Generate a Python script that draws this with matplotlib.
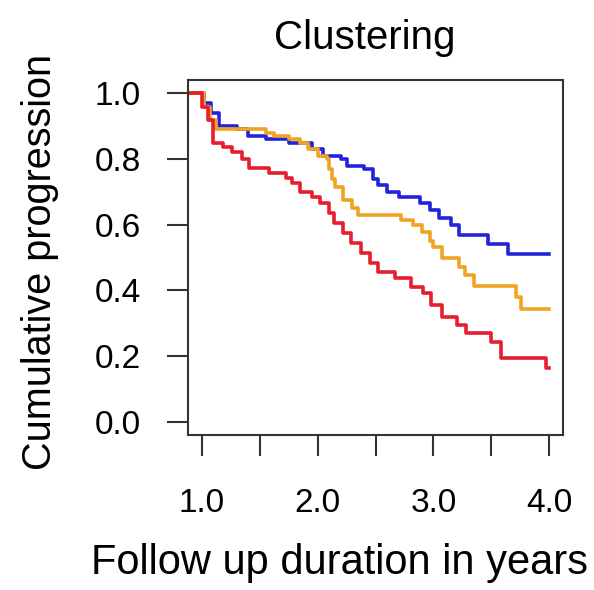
import matplotlib
matplotlib.use("Agg")
import matplotlib.pyplot as plt

plt.rcParams['font.family'] = ['Liberation Sans', 'DejaVu Sans']

# step curves: time of each drop and the level after it
blue_t = [0.90, 1.02, 1.08, 1.15, 1.30, 1.40, 1.55, 1.75, 1.95, 2.05, 2.20, 2.25,
          2.40, 2.48, 2.52, 2.60, 2.70, 2.88, 2.97, 3.05, 3.15, 3.22, 3.47, 3.64, 4.00]
blue_v = [1.00, 0.97, 0.94, 0.90, 0.89, 0.87, 0.86, 0.85, 0.83, 0.81, 0.80, 0.78,
          0.77, 0.74, 0.72, 0.70, 0.685, 0.665, 0.645, 0.62, 0.60, 0.57, 0.54, 0.51, 0.51]

orange_t = [0.90, 1.02, 1.07, 1.12, 1.55, 1.62, 1.75, 1.85, 1.92, 2.00, 2.08, 2.10,
            2.12, 2.15, 2.22, 2.30, 2.35, 2.72, 2.82, 2.90, 2.97, 3.00, 3.07, 3.22,
            3.27, 3.35, 3.71, 3.76, 4.00]
orange_v = [1.00, 0.96, 0.92, 0.89, 0.88, 0.87, 0.86, 0.85, 0.83, 0.81, 0.80, 0.77,
            0.74, 0.715, 0.675, 0.65, 0.63, 0.615, 0.60, 0.578, 0.55, 0.532, 0.50, 0.47,
            0.447, 0.413, 0.38, 0.343, 0.343]

red_t = [0.90, 1.00, 1.05, 1.10, 1.18, 1.26, 1.35, 1.41, 1.58, 1.73, 1.78, 1.85,
         1.95, 2.02, 2.10, 2.14, 2.22, 2.29, 2.37, 2.45, 2.52, 2.67, 2.81, 2.91,
         2.98, 3.07, 3.20, 3.28, 3.50, 3.58, 3.97, 4.00]
red_v = [1.00, 0.96, 0.92, 0.85, 0.837, 0.82, 0.80, 0.773, 0.757, 0.742, 0.727, 0.70,
         0.684, 0.666, 0.635, 0.605, 0.574, 0.544, 0.513, 0.483, 0.456, 0.437, 0.41, 0.392,
         0.355, 0.319, 0.295, 0.27, 0.243, 0.194, 0.163, 0.163]

x_ticks = [1.0, 1.5, 2.0, 2.5, 3.0, 3.5, 4.0]
x_labels = ["1.0", "", "2.0", "", "3.0", "", "4.0"]
y_ticks = [0.0, 0.2, 0.4, 0.6, 0.8, 1.0]
y_labels = ["0.0", "0.2", "0.4", "0.6", "0.8", "1.0"]

fig = plt.figure(figsize=(5.94, 5.90), dpi=100)
ax = fig.add_axes([0.3165, 0.263, 0.6315, 0.601])

ax.step(blue_t, blue_v, where="post", color="#2323dc", lw=2.6)
ax.step(orange_t, orange_v, where="post", color="#f0a422", lw=2.6)
ax.step(red_t, red_v, where="post", color="#e61e2e", lw=2.6)

ax.set_xlim(0.88, 4.12)
ax.set_ylim(-0.04, 1.04)
ax.set_xticks(x_ticks)
ax.set_xticklabels(x_labels)
ax.set_yticks(y_ticks)
ax.set_yticklabels(y_labels)
ax.tick_params(axis="both", length=15, width=1.5, color="#333333", labelsize=24)
ax.tick_params(axis="x", pad=23)
ax.tick_params(axis="y", pad=19)
for s in ax.spines.values():
    s.set_linewidth(1.5)
    s.set_color("#333333")

fig.text(365 / 594, 1 - 38 / 590, "Clustering", ha="center", va="center", fontsize=29)
fig.text(340 / 594, 1 - 563 / 590, "Follow up duration in years", ha="center", va="center", fontsize=30)
fig.text(40 / 594, 1 - 262 / 590, "Cumulative progression", ha="center", va="center",
         rotation=90, fontsize=28.5)

fig.savefig("out.png", dpi=100)
